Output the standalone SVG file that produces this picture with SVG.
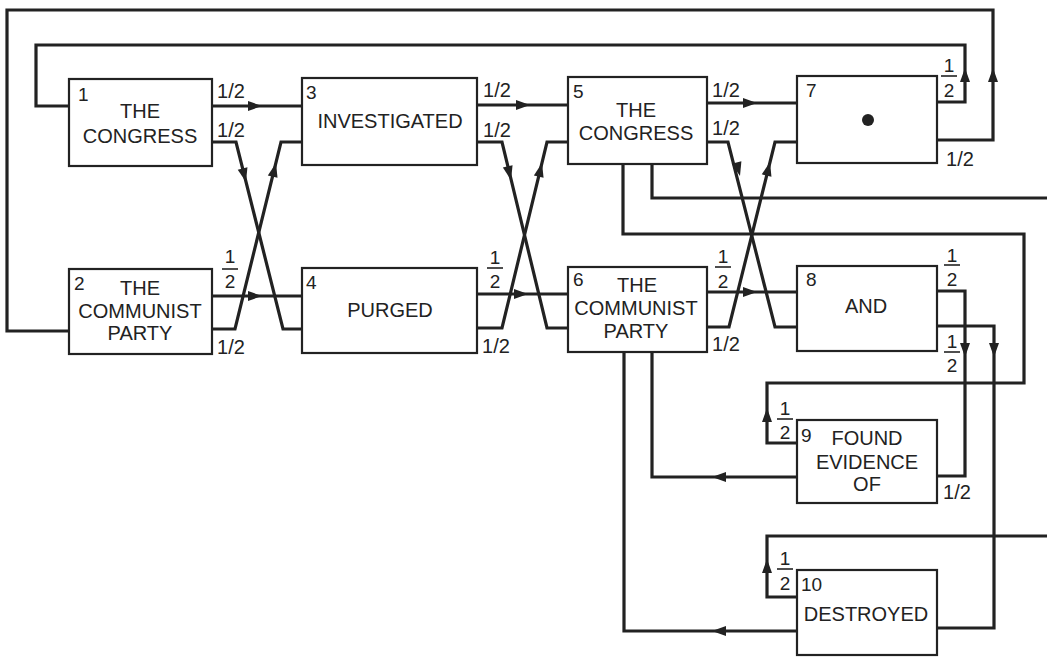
<svg xmlns="http://www.w3.org/2000/svg" width="1047" height="657" viewBox="0 0 1047 657">
<style>
.box{fill:#fff;stroke:#222;stroke-width:2.2}
.ln{fill:none;stroke:#222;stroke-width:3.2;stroke-linejoin:miter}
.t{font-family:"Liberation Sans",Arial,sans-serif;font-size:20px;fill:#222;text-anchor:middle}
.n{font-family:"Liberation Sans",Arial,sans-serif;font-size:19px;fill:#222}
.f{font-family:"Liberation Sans",Arial,sans-serif;font-size:20px;fill:#222;text-anchor:middle}
.s{font-family:"Liberation Sans",Arial,sans-serif;font-size:19px;fill:#222;text-anchor:middle}
.fb{stroke:#222;stroke-width:1.6}
.ah{fill:#222}
</style>
<defs>
<path id="ah" d="M0,0 L-14,-5 L-14,5 Z"/>
</defs>
<rect width="1047" height="657" fill="#fff"/>

<g id="connectors">
<path class="ln" d="M937,140 H993 V10 H7 V331 H69"/>
<path class="ln" d="M937,102 H965 V45 H36 V106 H69"/>
<path class="ln" d="M212,106 H302"/>
<path class="ln" d="M212,142 H236 L283,329 H302"/>
<path class="ln" d="M212,329 H235 L281,142 H302"/>
<path class="ln" d="M212,296 H302"/>
<path class="ln" d="M477,105 H568"/>
<path class="ln" d="M477,142 H502 L547,328 H568"/>
<path class="ln" d="M477,328 H502 L547,142 H568"/>
<path class="ln" d="M477,294 H568"/>
<path class="ln" d="M707,103 H797"/>
<path class="ln" d="M707,142 H728 L775,327 H797"/>
<path class="ln" d="M707,327 H729 L775,142 H797"/>
<path class="ln" d="M707,292 H797"/>
<path class="ln" d="M937,291 H965 V476 H937"/>
<path class="ln" d="M937,326 H994 V628 H937"/>
<path class="ln" d="M623,164 V234 H1024 V383 H767 V443 H797"/>
<path class="ln" d="M652,164 V198 H1047"/>
<path class="ln" d="M1047,536 H767 V597 H797"/>
<path class="ln" d="M624,352 V631 H797"/>
<path class="ln" d="M652,352 V477 H797"/>
<g class="ah">
<use href="#ah" transform="translate(993,68) rotate(-90)"/>
<use href="#ah" transform="translate(965,68) rotate(-90)"/>
<use href="#ah" transform="translate(262,106)"/>
<use href="#ah" transform="translate(246,182) rotate(75.9)"/>
<use href="#ah" transform="translate(276,163) rotate(-76.2)"/>
<use href="#ah" transform="translate(262,296)"/>
<use href="#ah" transform="translate(530,105)"/>
<use href="#ah" transform="translate(511,180) rotate(76.4)"/>
<use href="#ah" transform="translate(542,163) rotate(-76.4)"/>
<use href="#ah" transform="translate(528,294)"/>
<use href="#ah" transform="translate(757,103)"/>
<use href="#ah" transform="translate(740,176) rotate(75.7)"/>
<use href="#ah" transform="translate(770,162) rotate(-76)"/>
<use href="#ah" transform="translate(757,292)"/>
<use href="#ah" transform="translate(965,357) rotate(90)"/>
<use href="#ah" transform="translate(994,357) rotate(90)"/>
<use href="#ah" transform="translate(767,408) rotate(-90)"/>
<use href="#ah" transform="translate(767,559) rotate(-90)"/>
<use href="#ah" transform="translate(712,631) rotate(180)"/>
<use href="#ah" transform="translate(712,477) rotate(180)"/>
</g>
</g>

<g id="labels">
<text class="f" x="231" y="98">1/2</text>
<text class="f" x="231" y="137">1/2</text>
<text class="s" x="230" y="263">1</text><line class="fb" x1="222" y1="269" x2="238" y2="269"/><text class="s" x="230" y="288">2</text>
<text class="f" x="231" y="354">1/2</text>
<text class="f" x="497" y="97">1/2</text>
<text class="f" x="497" y="137">1/2</text>
<text class="s" x="495" y="264">1</text><line class="fb" x1="487" y1="268" x2="503" y2="268"/><text class="s" x="495" y="288">2</text>
<text class="f" x="496" y="353">1/2</text>
<text class="f" x="726" y="97">1/2</text>
<text class="f" x="726" y="135">1/2</text>
<text class="s" x="723" y="263">1</text><line class="fb" x1="715" y1="267" x2="731" y2="267"/><text class="s" x="723" y="288">2</text>
<text class="f" x="726" y="351">1/2</text>
<text class="s" x="949" y="72">1</text><line class="fb" x1="941" y1="76" x2="957" y2="76"/><text class="s" x="949" y="97">2</text>
<text class="f" x="960" y="166">1/2</text>
<text class="s" x="952" y="262">1</text><line class="fb" x1="944" y1="265" x2="960" y2="265"/><text class="s" x="952" y="286">2</text>
<text class="s" x="952" y="348">1</text><line class="fb" x1="944" y1="352" x2="960" y2="352"/><text class="s" x="952" y="372">2</text>
<text class="s" x="785" y="415">1</text><line class="fb" x1="777" y1="419" x2="793" y2="419"/><text class="s" x="785" y="439">2</text>
<text class="f" x="957" y="499">1/2</text>
<text class="s" x="785" y="565">1</text><line class="fb" x1="777" y1="569" x2="793" y2="569"/><text class="s" x="785" y="590">2</text>
</g>

<g id="node1"><rect class="box" x="69" y="79" width="143" height="87"/><text class="n" x="78" y="101">1</text><text class="t" x="140" y="118">THE</text><text class="t" x="140" y="143">CONGRESS</text></g>
<g id="node2"><rect class="box" x="69" y="269" width="143" height="85"/><text class="n" x="74" y="290">2</text><text class="t" x="140" y="295">THE</text><text class="t" x="140" y="318">COMMUNIST</text><text class="t" x="140" y="340">PARTY</text></g>
<g id="node3"><rect class="box" x="302" y="78" width="175" height="87"/><text class="n" x="306" y="99">3</text><text class="t" x="390" y="128">INVESTIGATED</text></g>
<g id="node4"><rect class="box" x="302" y="268" width="175" height="85"/><text class="n" x="306" y="289">4</text><text class="t" x="390" y="317">PURGED</text></g>
<g id="node5"><rect class="box" x="568" y="77" width="139" height="87"/><text class="n" x="573" y="98">5</text><text class="t" x="636" y="117">THE</text><text class="t" x="636" y="140">CONGRESS</text></g>
<g id="node6"><rect class="box" x="568" y="267" width="139" height="85"/><text class="n" x="573" y="286">6</text><text class="t" x="637" y="292">THE</text><text class="t" x="636" y="315">COMMUNIST</text><text class="t" x="636" y="338">PARTY</text></g>
<g id="node7"><rect class="box" x="797" y="76" width="140" height="87"/><text class="n" x="806" y="97">7</text><circle cx="868" cy="120" r="6" fill="#222"/></g>
<g id="node8"><rect class="box" x="797" y="266" width="140" height="85"/><text class="n" x="806" y="286">8</text><text class="t" x="866" y="313">AND</text></g>
<g id="node9"><rect class="box" x="797" y="420" width="140" height="83"/><text class="n" x="801" y="442">9</text><text class="t" x="867" y="445">FOUND</text><text class="t" x="867" y="469">EVIDENCE</text><text class="t" x="867" y="491">OF</text></g>
<g id="node10"><rect class="box" x="797" y="570" width="140" height="85"/><text class="n" x="801" y="591">10</text><text class="t" x="866" y="621">DESTROYED</text></g>
</svg>
